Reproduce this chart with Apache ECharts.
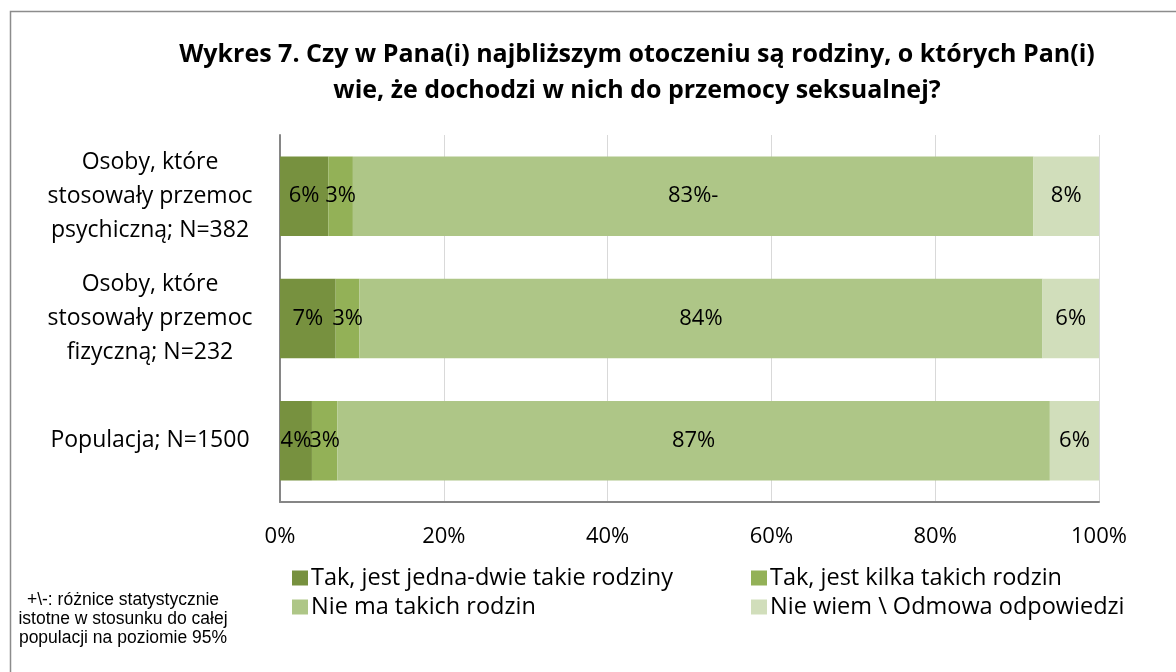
<!DOCTYPE html>
<html><head><meta charset="utf-8">
<script src="https://cdn.jsdelivr.net/npm/echarts@6/dist/echarts.min.js"></script>
<style>html,body{margin:0;padding:0;background:#fff}#c{width:1176px;height:672px}</style>
</head><body><div id="c"></div>
<script>
const categories = ['Osoby, które\nstosowały przemoc\npsychiczną; N=382', 'Osoby, które\nstosowały przemoc\nfizyczną; N=232', 'Populacja; N=1500'];
const seriesNames = ['Tak, jest jedna-dwie takie rodziny', 'Tak, jest kilka takich rodzin', 'Nie ma takich rodzin', 'Nie wiem \\ Odmowa odpowiedzi'];
const jednaDwie = [5.9, 6.8, 3.9];
const kilka = [3.0, 2.9, 3.1];
const nieMa = [83.1, 83.4, 87.0];
const nieWiem = [8.0, 6.9, 6.0];
const jednaDwieLabels = ['6%', '7%', '4%'];
const kilkaLabels = ['3%', '3%', '3%'];
const nieMaLabels = ['83%-', '84%', '87%'];
const nieWiemLabels = ['8%', '6%', '6%'];
const xTicks = [0, 20, 40, 60, 80, 100];
const colors = ['#77913F', '#93B157', '#AEC687', '#D1DEBB'];

const FONT = 'Open Sans';
const values = [jednaDwie, kilka, nieMa, nieWiem];
const labels = [jednaDwieLabels, kilkaLabels, nieMaLabels, nieWiemLabels];

const legendText = {fontFamily: FONT, fontSize: 23.5, lineHeight: 24, color: '#000', padding: [0,0,0,-2]};

const chart = echarts.init(document.getElementById('c'));
chart.setOption({
  animation: false,
  title: {
    text: 'Wykres 7. Czy w Pana(i) najbliższym otoczeniu są rodziny, o których Pan(i)\nwie, że dochodzi w nich do przemocy seksualnej?',
    left: 632, top: 32, textAlign: 'center',
    textStyle: {fontFamily: FONT, fontWeight: 'bold', fontSize: 25, lineHeight: 36, color: '#000'}
  },
  grid: {left: 280, right: 77, top: 135, bottom: 170},
  xAxis: {
    type: 'value', min: 0, max: 100, interval: 20,
    axisLine: {show: true, lineStyle: {color: '#868686', width: 2}},
    axisTick: {show: false},
    splitLine: {show: true, lineStyle: {color: '#D9D9D9', width: 1}},
    axisLabel: {fontFamily: FONT, fontSize: 22, color: '#000', margin: 24,
      formatter: v => xTicks.includes(v) ? v + '%' : ''}
  },
  yAxis: {
    type: 'category', data: categories, inverse: true,
    axisLine: {show: true, lineStyle: {color: '#868686', width: 2}},
    axisTick: {show: false},
    axisLabel: {fontFamily: FONT, fontSize: 23, lineHeight: 34, color: '#000', align: 'center', margin: 130}
  },
  legend: [
    {data: [seriesNames[0], seriesNames[2]], orient: 'vertical', left: 292, top: 566, padding: 0, itemWidth: 16, itemHeight: 15, itemGap: 5, icon: 'rect',
      textStyle: legendText},
    {data: [seriesNames[1], seriesNames[3]], orient: 'vertical', left: 751, top: 566, padding: 0, itemWidth: 16, itemHeight: 15, itemGap: 5, icon: 'rect',
      textStyle: legendText}
  ],
  graphic: [
    {type: 'rect', left: 8, top: 9, shape: {width: 1300, height: 800}, style: {fill: 'none', stroke: '#8C8C8C', lineWidth: 1.5}, silent: true},
    {type: 'text', x: 123, y: 591, style: {text: '+\\-: różnice statystycznie\nistotne w stosunku do całej\npopulacji na poziomie 95%', align: 'center', verticalAlign: 'top', fontFamily: 'Liberation Sans', fontSize: 17.5, lineHeight: 19, fill: '#000'}}
  ],
  series: seriesNames.map((name, i) => ({
    name, type: 'bar', stack: 'total', barWidth: '65%',
    itemStyle: {color: colors[i]},
    label: {show: true, position: 'inside', color: '#000', fontFamily: FONT, fontSize: 22,
      formatter: p => labels[i][p.dataIndex]},
    data: values[i]
  }))
});
</script></body></html>
